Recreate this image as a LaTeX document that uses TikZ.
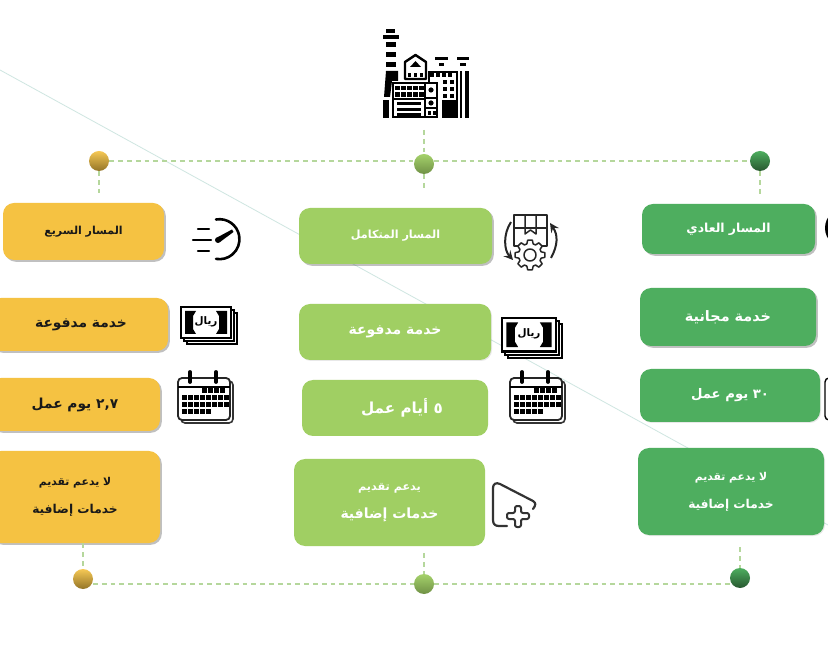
\documentclass[tikz,border=0pt]{standalone}
\usepackage{fontspec}
\usetikzlibrary{shadows}
\TeXXeTstate=1
\newfontfamily\arf[Script=Arabic]{DejaVu Sans}
\newcommand{\fsz}[1]{\fontsize{#1}{14}\selectfont}
\definecolor{yel}{HTML}{F5C242}
\definecolor{mid}{HTML}{A0CF63}
\definecolor{grn}{HTML}{4EAE5F}
\definecolor{dashc}{HTML}{B5D79C}
\definecolor{diag}{HTML}{CFE6E1}
\tikzset{
 boxbase/.style={rounded corners=5.5pt,inner sep=0pt,align=center,font=\arf\bfseries\fsz{7}},
 shad/.style={drop shadow={shadow xshift=.9pt,shadow yshift=-.9pt,opacity=.35,fill=black!70}},
 softshad/.style={drop shadow={shadow xshift=.5pt,shadow yshift=-.5pt,opacity=.15,fill=black!60}},
 ybox/.style={boxbase,shad,fill=yel,text=black!90},
 mbox/.style={boxbase,fill=mid,text=white},
 gbox/.style={boxbase,fill=grn,text=white},
 dotdash/.style={dashc,line width=.9pt,dash pattern=on 2.4pt off 2pt},
 ydot/.style={circle,minimum size=10pt,inner sep=0pt,top color=yel!90!white,bottom color=yel!60!black,draw=none},
 mdot/.style={circle,minimum size=10pt,inner sep=0pt,top color=mid!95!white,bottom color=mid!70!black,draw=none},
 gdot/.style={circle,minimum size=10pt,inner sep=0pt,top color=grn,bottom color=grn!50!black,draw=none},
 moneyicon/.pic={
  \draw[fill=white,line width=1pt] (6,6) rectangle (56,37);
  \draw[fill=white,line width=1pt] (3,3) rectangle (53,34);
  \draw[fill=white,line width=1.1pt] (0,0) rectangle (50,31);
  \fill (4,4) -- (15,4) -- (12,9) -- (12,22) -- (15,27) -- (4,27) -- cycle;
  \fill (46,4) -- (35,4) -- (38,9) -- (38,22) -- (35,27) -- (46,27) -- cycle;
  \node[font=\arf\bfseries\fontsize{5.2}{6}\selectfont,inner sep=0pt] (-t) at (25,15) {\beginR ريال\endR};
 },
 calicon/.pic={
  \draw[fill=white,line width=.8pt,rounded corners=2pt,draw=black!80] (3,3) rectangle (55,45);
  \draw[fill=white,line width=.9pt,rounded corners=2pt,draw=black!85] (0,0) rectangle (52,42);
  \draw[line width=.6pt] (0,9) -- (52,9);
  \foreach \cx in {12,38}{\draw[line width=1.9pt,line cap=round] (\cx,-6) -- (\cx,4);}
  \foreach \cx in {24,30,36,42}{\fill (\cx,10.5) rectangle +(5,5);}
  \foreach \ry in {17,24}{\foreach \cx in {4,10,16,22,28,34,40,46}{\fill (\cx-.5,\ry) rectangle +(5,5);}}
  \foreach \cx in {4,10,16,22,28}{\fill (\cx-.5,31) rectangle +(5,5);}
 },
}
\begin{document}
\begin{tikzpicture}[x=.5pt,y=-.5pt]
\clip (0,0) rectangle (828,656);
\fill[white] (0,0) rectangle (828,656);
% diagonal hairline behind the boxes
\coordinate (da) at (0,70);
\coordinate (db) at (828,525);
\draw[diag,line width=.4pt] (da) -- (db);
% boxes
\node[ybox,minimum width=80.5pt,minimum height=28.5pt] (y1) at (83.5,231.5) {\raisebox{1pt}{\fsz{5.5}\beginR المسار السريع\endR}};
\node[ybox,minimum width=89pt,minimum height=26.5pt] (y2) at (79,324.5) {\hspace*{2pt}\fsz{6.9}\beginR خدمة مدفوعة\endR};
\node[ybox,minimum width=85pt,minimum height=26.5pt] (y3) at (75,404.5) {\fsz{6.9}\beginR \beginL ٢,٧\endL{} يوم عمل\endR};
\node[ybox,minimum width=85pt,minimum height=46pt] (y4) at (75,497) {\fsz{5.4}\beginR لا يدعم تقديم\endR\\\fsz{6.1}\beginR خدمات إضافية\endR};
\node[mbox,shad,minimum width=96.5pt,minimum height=28pt] (m1) at (395.5,236) {\raisebox{.8pt}{\fsz{5.6}\beginR المسار المتكامل\endR}};
\node[mbox,softshad,minimum width=96pt,minimum height=28pt] (m2) at (395,332) {\fsz{7}\beginR خدمة مدفوعة\endR};
\node[mbox,minimum width=93pt,minimum height=28pt] (m3) at (395,408) {\hspace*{7pt}\fsz{7.6}\beginR \beginL ٥\endL{} أيام عمل\endR};
\node[mbox,minimum width=95.5pt,minimum height=43.5pt] (m4) at (389.5,502.5) {\fsz{5.6}\beginR يدعم تقديم\endR\\\fsz{7}\beginR خدمات إضافية\endR};
\node[gbox,shad,minimum width=86.5pt,minimum height=25pt] (g1) at (728.5,229) {\fsz{6.2}\beginR المسار العادي\endR};
\node[gbox,shad,minimum width=88pt,minimum height=29pt] (g2) at (728,317) {\raisebox{1.2pt}{\fsz{7.2}\beginR خدمة مجانية\endR}};
\node[gbox,softshad,minimum width=90pt,minimum height=26.5pt] (g3) at (730,395.5) {\fsz{6.6}\beginR \beginL ٣٠\endL{} يوم عمل\endR};
\node[gbox,softshad,minimum width=93pt,minimum height=43.5pt] (g4) at (731,491.5) {\fsz{5.4}\beginR لا يدعم تقديم\endR\\\fsz{6.1}\beginR خدمات إضافية\endR};
% dots
\coordinate (ftop) at (424,130);
\coordinate (mbelow) at (424,188);
\node[ydot] (yt) at (99,161) {};
\node[mdot] (mt) at (424,164) {};
\node[gdot] (gt) at (760,161) {};
\node[ydot] (yb) at (83,579) {};
\node[mdot] (mb) at (424,584) {};
\node[gdot] (gb) at (740,578) {};
% connectors
\draw[dotdash] (yt.east) -- (yt.east -| mt.west);
\draw[dotdash] (yt.east -| mt.east) -- (gt.west);
\draw[dotdash,shorten <=5pt] (yb |- mb) -- (mb.west);
\draw[dotdash,shorten >=5pt] (mb.east) -- (gb |- mb);
\draw[dotdash] (ftop) -- (mt.north);
\draw[dotdash] (mt.south) -- (mbelow);
\draw[dotdash,shorten >=5pt] (yt.south) -- (yt |- y1.north);
\draw[dotdash,shorten >=5pt] (gt.south) -- (gt |- g1.north);
\draw[dotdash] (y4.south -| yb) -- (yb.north);
\draw[dotdash,shorten <=3.5pt] (m4.south -| mb) -- (mb.north);
\draw[dotdash,shorten <=6pt] (g4.south -| gb) -- (gb.north);
% factory
\begin{scope}[fill=black]
 \fill (386,29) rectangle (395,33);
 \fill (383,35) rectangle (399,39);
 \fill (386,42) rectangle (396,47);
 \fill (386,52) rectangle (396,57);
 \fill (386,62) rectangle (396,67);
 \fill (386,71) -- (398,71) -- (398,81) -- (392,81) -- (390,97) -- (384,97) -- cycle;
 \fill (383,100) rectangle (389,118);
 \draw[line width=1.2pt,fill=white] (393,83) rectangle (437,117);
 \foreach \cx in {395,401,407,413,419}{\fill (\cx,86) rectangle +(4.5,4.5); \fill (\cx,92.5) rectangle +(4.5,4.5);}
 \draw[line width=1pt] (425,83) -- (425,117) (393,99) -- (425,99);
 \foreach \ry in {102,108,113.5}{\fill (397,\ry) rectangle (421,\ry+3);}
 \draw[line width=1pt] (425,98) -- (437,98) (425,108) -- (437,108);
 \fill (431,90) circle (2.6);
 \fill (431,103) circle (2.6);
 \fill (428,111) rectangle +(3.4,4); \fill (433,111) rectangle +(3.4,4);
 \draw[line width=1.2pt,fill=white,line join=round] (405,79) -- (405,62) -- (415.5,55) -- (426,62) -- (426,79) -- cycle;
 \fill (410,67) -- (415.5,61) -- (421,67) -- cycle;
 \foreach \cx in {407.5,413.5,419.5}{\fill (\cx,73) rectangle +(3.6,4.5);}
 \draw[line width=1.1pt] (429,83) -- (429,72) -- (457,72) -- (457,118);
 \foreach \cx in {430,436,442,448}{\fill (\cx,72) rectangle +(4.2,5.5);}
 \foreach \ry in {80,87,94}{\foreach \cx in {443,450}{\fill (\cx,\ry) rectangle +(4.2,4.2);}}
 \fill (442,100) rectangle (456,118);
 \fill (460,71) rectangle (462,118);
 \fill (465,71) rectangle (469,118);
 \fill (435,57) rectangle (448,60); \fill (439,63) rectangle (444,66);
 \fill (457,57) rectangle (469,60); \fill (460,63) rectangle (466,66);
\end{scope}
% gauge icon
\draw[line width=1.3pt,line cap=round] (216,219.5) arc[start angle=-100,end angle=100,radius=20];
\draw[line width=1.1pt,line cap=round] (198,229) -- (209,229) (193,240) -- (211,240) (198,251) -- (209,251);
\fill (218,237) -- (232,229.5) -- (233.5,232) -- (220,242) -- cycle;
\fill (218,240) circle (3);
% process icon
\begin{scope}[line width=.75pt,line join=round,black!85]
 \draw (514,228) -- (514,215) -- (547,215) -- (547,246) -- (541,246);
 \draw (514,228) -- (514,246) -- (520,246);
 \draw (514,228) -- (547,228);
 \draw (525,215) -- (525,234) -- (530.5,230) -- (536,234) -- (536,215);
 \draw[fill=white,shift={(530,255)}] (9:15) \foreach \a in {0,45,...,315}{ -- (\a+9:15) -- (\a+16:11.5) -- (\a+29:11.5) -- (\a+36:15)} -- cycle;
 \draw (530,255) circle (6);
 \draw[line width=1pt,-stealth] (511,222) .. controls (503,234) and (504,250) .. (513,260);
 \draw[line width=1pt,-stealth] (551,258) .. controls (558,245) and (558,235) .. (550,223);
\end{scope}
% money and calendars
\pic (mn1) at (181,307) {moneyicon};
\pic[scale=1.08] (mn2) at (502,318) {moneyicon};
\pic (ca1) at (178,378) {calicon};
\pic (ca2) at (510,378) {calicon};
\draw[line width=.7pt,rounded corners=2pt] (825,378) rectangle (840,420);
% folder plus
\draw[line width=1.1pt,line cap=round,line join=round,black!80]
 (507,526) -- (499,526) .. controls (495,526) and (493,524) .. (493,520) -- (493,488) .. controls (493,484) and (496,482) .. (500,484) -- (533,501) .. controls (536,503) and (536,505) .. (533,509);
\draw[line width=1pt,black!80,line join=round,rounded corners=1pt]
 (515,506) -- (521,506) -- (521,513) -- (529,513) -- (529,519) -- (521,519) -- (521,527) -- (515,527) -- (515,519) -- (507,519) -- (507,513) -- (515,513) -- cycle;
% cut-off round icon on the right edge
\fill (845,228) circle (20);
\end{tikzpicture}
\end{document}
